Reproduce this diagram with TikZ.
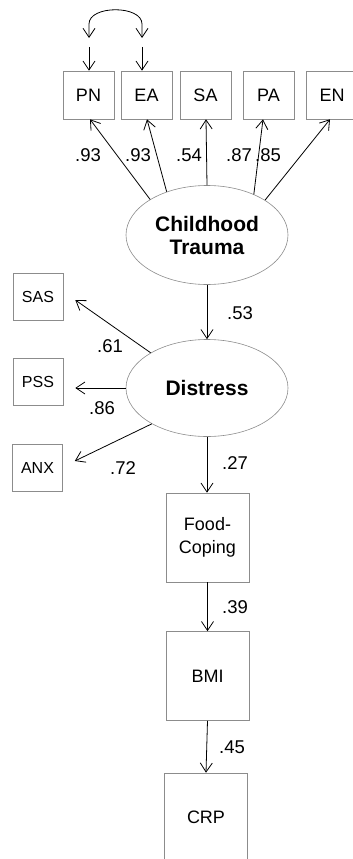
\documentclass[tikz,border=0pt]{standalone}
\usepackage{fontspec}
\setmainfont{Liberation Sans}
\usetikzlibrary{calc,shapes.geometric,arrows.meta}

\begin{document}
\begin{tikzpicture}[x=1pt, y=-1pt,
  obs/.style={rectangle, draw=black!45, line width=0.6pt, inner sep=0pt, align=center, font=\fontsize{18}{23}\selectfont},
  topbox/.style={obs, minimum width=51pt, minimum height=48pt},
  sidebox/.style={obs, minimum width=50pt, minimum height=47pt, font=\fontsize{16}{18}\selectfont},
  tallbox/.style={obs, minimum width=83pt, minimum height=89pt},
  lat/.style={ellipse, draw=black!45, line width=0.6pt, inner sep=0pt, align=center, minimum width=162pt, minimum height=99pt, font=\fontsize{21}{23}\selectfont\bfseries},
  pth/.style={-{Straight Barb[length=9pt,width=12pt]}, line width=0.8pt},
  lbl/.style={inner sep=0pt, font=\fontsize{18.5}{20}\selectfont}]
\useasboundingbox (0,0) rectangle (353,859);
\clip (0,0) rectangle (353,859);
% indicators of childhood trauma
\node[topbox] (pn) at (88.5,95) {PN};
\node[topbox] (ea) at (146.5,95) {EA};
\node[topbox] (sa) at (205.5,95) {SA};
\node[topbox] (pa) at (268.5,95) {PA};
\node[topbox] (en) at (332,95) {EN};
% latent variables
\node[lat] (ct) at (207,235) {Childhood\\Trauma};
\node[lat, minimum height=97pt] (ds) at (207,388) {Distress};
% indicators of distress
\node[sidebox] (sas) at (38,296.5) {SAS};
\node[sidebox] (pss) at (38,382) {PSS};
\node[sidebox] (anx) at (37.5,467.5) {ANX};
% outcome chain
\node[tallbox] (fc) at (207.5,537.5) {Food-\\Coping};
\node[tallbox] (bmi) at (207.5,676) {BMI};
\node[tallbox] (crp) at (206,817.5) {CRP};
% loadings
\foreach \a/\b/\d/\k/\lx in {148/pn/1.5/.93/88, 133.6/ea/0.5/.93/138, 90/sa/0.5/.54/189, 41/pa/-5.5/.87/239, 31/en/-2/.85/268}{
  \draw[pth] (ct.\a) -- ($(\b.south)+(\d,0)$);
  \node[lbl] (l\b) at (\lx,155) {\k};}
\foreach \a/\b/\d/\k/\lx/\ly in {148.5/sas/3.5/.61/110/346, 180/pss/6/.86/102/408, 213/anx/-6.5/.72/123/468}{
  \draw[pth] (ds.\a) -- ($(\b.east)+(12,\d)$);
  \node[lbl] (l\b) at (\lx,\ly) {\k};}
% structural paths
\draw[pth] (ct.south) -- (ds.north);
\draw[pth] (ds.south) -- (fc.north -| ds.south);
\draw[pth] (fc.south) -- (bmi.north);
\draw[pth] (bmi.south) -- (crp.north);
\node[lbl] (l53) at (240,313) {.53};
\node[lbl] (l27) at (235,463) {.27};
\node[lbl] (l39) at (235,607) {.39};
\node[lbl] (l45) at (232,747) {.45};
% error covariance
\coordinate (e1) at (89,47);
\coordinate (e2) at (142,47);
\draw[pth] (e1) -- (e1 |- pn.north);
\draw[pth] (e2) -- (e2 |- ea.north);
\coordinate (c1) at (89,38);
\coordinate (c2) at (142,38);
\draw[pth, {Straight Barb[length=9pt,width=12pt]}-{Straight Barb[length=9pt,width=12pt]}]
  (c1) -- ++(0,-14) .. controls +(0,-19) and +(0,-19) .. ($(c2)+(0,-14)$) -- (c2);
\end{tikzpicture}
\end{document}
